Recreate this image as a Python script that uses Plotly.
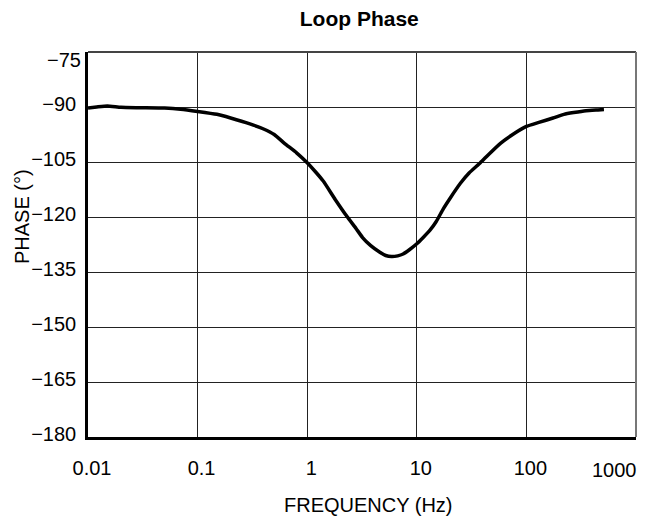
import plotly.graph_objects as go

# loop phase
freq_hz = [0.01, 0.012, 0.015, 0.02, 0.03, 0.05, 0.07, 0.1, 0.15, 0.2, 0.3,
           0.4, 0.5, 0.62, 0.8, 1.0, 1.2, 1.4, 1.8, 2.3, 2.8, 3.2, 3.8, 4.6,
           5.2, 5.9, 6.7, 7.5, 8.5, 10, 11.5, 13.2, 15, 17.5, 20, 25, 30, 38,
           45, 58, 75, 100, 130, 175, 220, 270, 350, 450, 510]
phase_deg = [-90.3, -90.0, -89.7, -90.1, -90.2, -90.3, -90.6, -91.2, -92.0,
             -93.0, -94.6, -96.0, -97.5, -99.9, -102.5, -105.2, -107.8,
             -110.2, -115.2, -119.8, -123.2, -125.6, -127.8, -129.6, -130.5,
             -130.8, -130.6, -130.1, -129.0, -127.3, -125.5, -123.6, -121.3,
             -117.7, -115.0, -110.8, -108.0, -105.2, -103.0, -99.9, -97.5,
             -95.3, -94.2, -93.0, -92.0, -91.5, -91.0, -90.8, -90.7]

x_ticks = [0.01, 0.1, 1, 10, 100, 1000]
x_labels = ["0.01", "0.1", "1", "10", "100", ""]   # 1000 is placed by hand
y_ticks = [-180, -165, -150, -135, -120, -105, -90, -75]
y_labels = ["−180", "−165", "−150", "−135", "−120", "−105", "−90", ""]

FONT = "Liberation Sans, Arial, sans-serif"
TXT = dict(family=FONT, size=20, color="black")

fig = go.Figure()
fig.add_trace(go.Scatter(
    x=freq_hz, y=phase_deg,
    mode="lines",
    line=dict(color="black", width=3.5, shape="spline", smoothing=0.5),
    showlegend=False,
))

# the page body adds an 8px margin, so the figure is 8px smaller each way
fig.update_layout(
    width=649, height=515,
    margin=dict(l=80, r=21, t=44, b=86),
    paper_bgcolor="white",
    plot_bgcolor="white",
    font=TXT,
    title=dict(
        text="<b>Loop Phase</b>",
        font=dict(family=FONT, size=21, color="black"),
        xref="paper", x=0.495, xanchor="center",
        yref="container", y=0.979, yanchor="middle",
    ),
    xaxis=dict(
        type="log", range=[-2, 3],
        tickvals=x_ticks, ticktext=x_labels,
        showgrid=True, gridcolor="#222", gridwidth=1,
        showline=True, linecolor="black", linewidth=2.5,
        ticks="", ticklabelstandoff=11, ticklabelshift=4,
        tickfont=TXT,
        zeroline=False,
    ),
    yaxis=dict(
        range=[-180, -75],
        tickvals=y_ticks, ticktext=y_labels,
        showgrid=True, gridcolor="#222", gridwidth=1,
        showline=True, linecolor="black", linewidth=2.5,
        ticks="", ticklabelstandoff=5, ticklabelshift=-3,
        tickfont=TXT,
        zeroline=False,
    ),
    annotations=[
        dict(text="PHASE (°)", textangle=-90,
             xref="paper", yref="paper", x=-0.12, y=0.572,
             xanchor="center", yanchor="middle", showarrow=False, font=TXT),
        dict(text="FREQUENCY (Hz)",
             xref="paper", yref="paper", x=0.5125, y=0, yshift=-68,
             xanchor="center", yanchor="middle", showarrow=False, font=TXT),
        dict(text="1000",
             xref="paper", yref="paper", x=1, xshift=3, y=0, yshift=-33,
             xanchor="right", yanchor="middle", showarrow=False, font=TXT),
        dict(text="−75",
             xref="paper", yref="paper", x=0, xshift=-5, y=1, yshift=-8,
             xanchor="right", yanchor="middle", showarrow=False, font=TXT),
    ],
    shapes=[
        dict(type="line", xref="paper", yref="paper", x0=0, x1=1, y0=1, y1=1,
             line=dict(color="#444", width=2)),
        dict(type="line", xref="paper", yref="paper", x0=1, x1=1, y0=0, y1=1,
             line=dict(color="#777", width=2)),
    ],
)

fig.write_html("out.html")
